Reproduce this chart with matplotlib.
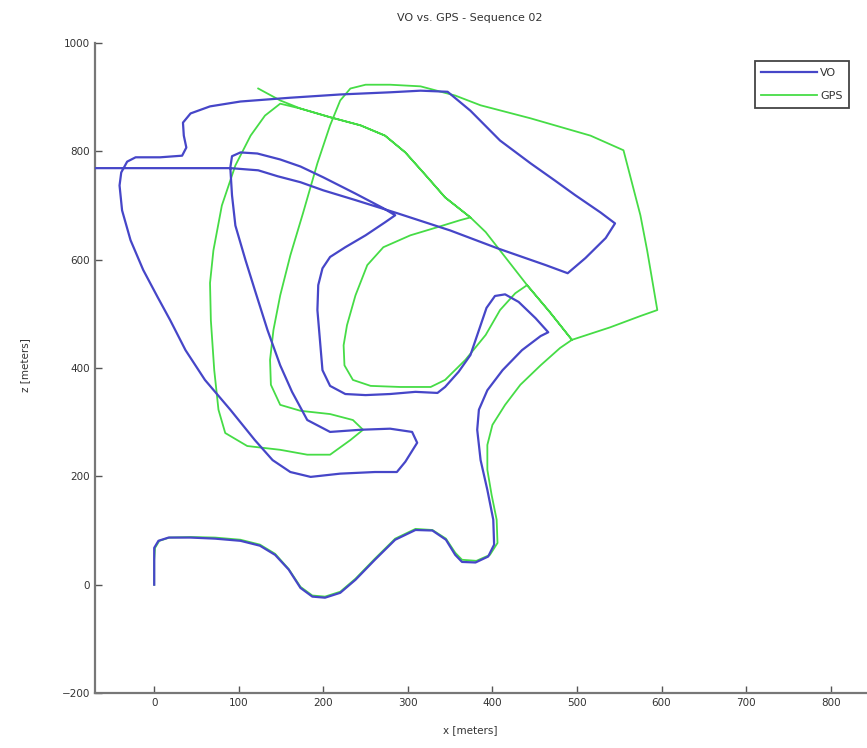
import numpy as np
import matplotlib
matplotlib.use('Agg')
import matplotlib.pyplot as plt

# VO trajectory (x, z) in meters
vo_x = [0, 0, 0, 5, 17, 43, 72, 102, 125, 143, 159, 173, 187, 202, 220, 238, 261, 285, 309, 329,
        345, 356, 364, 380, 395, 402, 401, 394, 386, 382, 384, 394, 412, 435, 457, 466, 451, 431, 415, 403,
        393, 384, 374, 360, 344, 335, 309, 279, 250, 226, 208, 199, 196, 193, 194, 199, 208, 226, 250, 273,
        285, 271, 238, 200, 173, 149, 122, 102, 92, 90, 92, 96, 108, 119, 134, 149, 163, 181, 208, 244,
        279, 305, 311, 297, 287, 261, 220, 185, 161, 140, 119, 90, 60, 37, 19, 4, -13, -28, -38, -41,
        -39, -32, -22, 7, 33, 38, 35, 34, 43, 66, 102, 161, 220, 279, 315, 347, 374, 409, 445, 474,
        498, 528, 545, 534, 510, 489, 463, 406, 350, 287, 238, 200, 173, 146, 123, 90, 31, -40, -111]
vo_z = [0, 46, 68, 81, 87, 87, 85, 81, 72, 55, 28, -6, -22, -24, -15, 9, 46, 83, 101, 100,
        83, 55, 42, 41, 52, 74, 120, 175, 230, 286, 323, 359, 396, 433, 459, 466, 492, 522, 536, 533,
        511, 470, 424, 393, 365, 354, 356, 352, 350, 352, 367, 396, 452, 507, 553, 584, 605, 623, 645, 669,
        682, 695, 722, 752, 772, 785, 796, 798, 791, 770, 719, 663, 599, 544, 470, 405, 356, 304, 282, 286,
        288, 282, 262, 227, 208, 208, 205, 199, 208, 230, 267, 323, 378, 433, 488, 531, 581, 636, 691, 737,
        761, 781, 789, 789, 792, 807, 829, 853, 870, 883, 892, 899, 905, 909, 912, 910, 875, 820, 778, 746,
        719, 687, 667, 640, 603, 575, 590, 621, 654, 686, 710, 728, 743, 754, 765, 769, 769, 769, 769]

# GPS ground truth (x, z) in meters
gps_x = [0, 0, 1, 6, 18, 43, 72, 102, 125, 143, 159, 173, 187, 202, 220, 238, 261, 285, 309, 329,
         345, 356, 364, 381, 397, 406, 405, 399, 394, 394, 400, 415, 433, 457, 480, 494, 539, 575, 595, 590,
         583, 575, 555, 516, 445, 386, 356, 315, 279, 250, 232, 220, 208, 193, 176, 161, 149, 141, 137, 138,
         149, 173, 208, 235, 247, 232, 208, 181, 149, 110, 84, 76, 71, 67, 66, 70, 80, 96, 114, 131,
         149, 173, 208, 244, 273, 297, 321, 344, 374, 392, 409, 427, 441, 468, 494, 468, 441, 427, 409, 392,
         368, 344, 327, 291, 256, 235, 225, 224, 228, 238, 252, 271, 303, 335, 362, 374, 344, 321, 297, 273,
         244, 208, 173, 149, 123]
gps_z = [0, 46, 68, 81, 87, 88, 87, 83, 74, 57, 29, -4, -20, -22, -13, 11, 48, 85, 103, 101,
         85, 59, 46, 44, 55, 77, 120, 166, 212, 258, 295, 332, 369, 405, 437, 452, 475, 496, 507, 553,
         617, 682, 802, 829, 861, 885, 903, 920, 923, 923, 916, 894, 848, 778, 686, 608, 534, 470, 415, 369,
         332, 321, 315, 304, 286, 267, 240, 240, 249, 256, 280, 323, 396, 488, 557, 617, 700, 774, 829, 866,
         888, 879, 863, 848, 829, 798, 756, 715, 678, 651, 617, 581, 553, 503, 452, 503, 553, 538, 507, 461,
         415, 378, 365, 365, 367, 378, 405, 442, 479, 534, 590, 623, 645, 660, 673, 678, 715, 756, 798, 829,
         848, 863, 879, 894, 916]

x_ticks = [0, 100, 200, 300, 400, 500, 600, 700, 800]
z_ticks = [-200, 0, 200, 400, 600, 800, 1000]

fig = plt.figure(figsize=(8.67, 7.48), dpi=100)
ax = fig.add_axes([0.1096, 0.0735, 0.8904, 0.869])

ax.plot(vo_x, vo_z, color='#4646c8', lw=1.6, label='VO', zorder=3)
ax.plot(gps_x, gps_z, color='#46dc46', lw=1.3, label='GPS', zorder=2)

ax.set_xlim(-70, 843)
ax.set_ylim(-200, 1000)
ax.set_xticks(x_ticks)
ax.set_yticks(z_ticks)
ax.tick_params(direction='in', length=5, width=1, colors='#555555', labelsize=7.5,
               labelcolor='#333333')
for s in ['top', 'right']:
    ax.spines[s].set_visible(False)
for s in ['left', 'bottom']:
    ax.spines[s].set_color('#777777')
    ax.spines[s].set_linewidth(1.6)

fig.text(470 / 867, 1 - 18 / 748, 'VO vs. GPS - Sequence 02', ha='center', va='center',
         fontsize=8, color='#333333')
fig.text(470 / 867, 1 - 730 / 748, 'x [meters]', ha='center', va='center',
         fontsize=7.5, color='#333333')
fig.text(25 / 867, 1 - 365 / 748, 'z [meters]', ha='center', va='center', rotation=90,
         fontsize=7.5, color='#333333')

leg = ax.legend(loc='upper right', bbox_to_anchor=(0.977, 0.972), borderaxespad=0,
                fancybox=False, framealpha=1, edgecolor='#444444', fontsize=8,
                handlelength=5, labelspacing=1.2, borderpad=0.6, handletextpad=0.3)
leg.get_frame().set_linewidth(1.3)
for t in leg.get_texts():
    t.set_color('#333333')

plt.savefig('out.png', dpi=100)
